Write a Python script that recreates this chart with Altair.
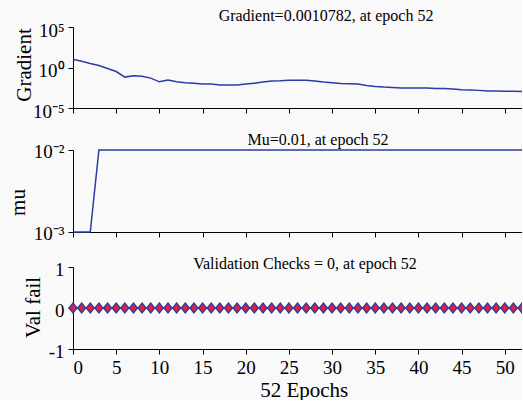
import altair as alt
import pandas as pd

# ---------------- data ----------------
epochs = list(range(53))
gradient = [10.5, 6.0, 3.1, 1.8, 0.76, 0.32, 0.065, 0.095, 0.085, 0.049,
            0.017, 0.028, 0.017, 0.013, 0.011, 0.0089, 0.0089, 0.0068, 0.0068, 0.0068,
            0.0089, 0.0117, 0.0158, 0.021, 0.023, 0.0275, 0.0275, 0.0275, 0.021, 0.0158,
            0.0129, 0.0107, 0.0100, 0.0089, 0.0062, 0.0046, 0.0038, 0.0035, 0.0029, 0.0029,
            0.0029, 0.0029, 0.0026, 0.0026, 0.0022, 0.0018, 0.00166, 0.0015, 0.00123, 0.00123,
            0.0012, 0.00115, 0.0010782]
mu = [0.001, 0.001, 0.001, 0.01, 0.01, 0.01, 0.01, 0.01, 0.01, 0.01,
      0.01, 0.01, 0.01, 0.01, 0.01, 0.01, 0.01, 0.01, 0.01, 0.01,
      0.01, 0.01, 0.01, 0.01, 0.01, 0.01, 0.01, 0.01, 0.01, 0.01,
      0.01, 0.01, 0.01, 0.01, 0.01, 0.01, 0.01, 0.01, 0.01, 0.01,
      0.01, 0.01, 0.01, 0.01, 0.01, 0.01, 0.01, 0.01, 0.01, 0.01,
      0.01, 0.01, 0.01]
val_fail = [0, 0, 0, 0, 0, 0, 0, 0, 0, 0,
            0, 0, 0, 0, 0, 0, 0, 0, 0, 0,
            0, 0, 0, 0, 0, 0, 0, 0, 0, 0,
            0, 0, 0, 0, 0, 0, 0, 0, 0, 0,
            0, 0, 0, 0, 0, 0, 0, 0, 0, 0,
            0, 0, 0]
x_ticks = [0, 5, 10, 15, 20, 25, 30, 35, 40, 45, 50]

titles = ["Gradient=0.0010782, at epoch 52",
          "Mu=0.01, at epoch 52",
          "Validation Checks = 0, at epoch 52"]

df = pd.DataFrame({"epoch": epochs, "gradient": gradient, "mu": mu, "val": val_fail})

FONT = "Liberation Serif"
BLUE = "#2B3BA6"
RED = "#E3202E"
W = 449

xscale = alt.Scale(domain=[0, 52], nice=False, zero=False)


def x_hidden():
    return alt.X("epoch:Q", scale=xscale,
                 axis=alt.Axis(values=x_ticks, labels=False, title=None,
                               tickSize=5, grid=False))


def ttl(text, dx, offset):
    return alt.TitleParams(text=text, font=FONT, fontSize=16, fontWeight="normal",
                           color="black", anchor="middle", frame="group",
                           dx=dx, baseline="alphabetic", offset=offset)


base = alt.Chart(df)

# ---------------- gradient panel ----------------
top = base.mark_line(color=BLUE, strokeWidth=1.5).encode(
    x=x_hidden(),
    y=alt.Y("gradient:Q",
            scale=alt.Scale(type="log", domain=[1e-5, 1e5], nice=False),
            axis=alt.Axis(values=[1e-5, 1, 1e5],
                          labelExpr="datum.value > 10 ? '10⁵' : (datum.value > 0.1 ? '10⁰' : '10⁻⁵')",
                          title="Gradient", titleX=-43, titleY=37.5, titleAngle=270,
                          titleBaseline="alphabetic", titleAlign="center",
                          labelOffset=3, labelPadding=4, tickSize=5, grid=False)),
).properties(width=W, height=81, title=ttl(titles[0], 28.5, -15.5))

# ---------------- mu panel ----------------
mid = base.mark_line(color=BLUE, strokeWidth=1.5).encode(
    x=x_hidden(),
    y=alt.Y("mu:Q",
            scale=alt.Scale(type="log", domain=[0.001, 0.01], nice=False, range=[89, 7]),
            axis=alt.Axis(values=[0.001, 0.01],
                          labelExpr="datum.value > 0.005 ? '10⁻²' : '10⁻³'",
                          title="mu", titleX=-49, titleY=59, titleAngle=270,
                          titleBaseline="alphabetic", titleAlign="center",
                          labelOffset=1, labelPadding=4, tickSize=5, grid=False)),
).properties(width=W, height=89, title=ttl(titles[1], 20.5, -18.5))

# ---------------- validation panel ----------------
x_bottom = alt.X("epoch:Q", scale=xscale,
                 axis=alt.Axis(values=x_ticks, title="52 Epochs", tickSize=5, grid=False,
                               labelPadding=4, titleX=230.7, titleY=47,
                               titleBaseline="alphabetic", titleAlign="center"))
y_val = alt.Y("val:Q", scale=alt.Scale(domain=[-1, 1], nice=False),
              axis=alt.Axis(values=[-1, 0, 1],
                            labelExpr="datum.value < -0.5 ? '-1' : (datum.value > 0.5 ? '1' : '0')",
                            title="Val fail", titleX=-34, titleY=40, titleAngle=270,
                            titleBaseline="alphabetic", titleAlign="center",
                            labelOffset=2, labelPadding=4, tickSize=5, grid=False))

diamond = dict(shape="M0,-1L0.8,0L0,1L-0.8,0Z", size=100, filled=True,
               color=RED, fill=RED, stroke=BLUE, strokeWidth=1.3, opacity=1)
val_line = base.mark_line(color=BLUE, strokeWidth=1.5).encode(x=x_bottom, y=y_val)
val_pts = base.transform_filter("datum.epoch < 52").mark_point(**diamond).encode(
    x=x_bottom, y=y_val)
val_last = base.transform_filter("datum.epoch >= 52").mark_point(clip=True, **diamond).encode(
    x=x_bottom, y=y_val)
bot = alt.layer(val_line, val_pts, val_last).properties(
    width=W, height=82, title=ttl(titles[2], 7.5, -24.5))

chart = alt.vconcat(top, mid, bot, spacing=35, bounds="flush").properties(
    background="#F9F9F9",
    padding={"left": 7, "top": 7, "right": -3, "bottom": 0},
).configure_axis(
    labelFont=FONT, titleFont=FONT, labelColor="black", titleColor="black",
    domainColor="black", tickColor="black", labelFontSize=19, titleFontSize=21,
    titleFontWeight="normal", domainWidth=1, tickWidth=1,
).configure_view(strokeWidth=0)

chart.save("out.html", embed_options={"renderer": "svg", "actions": False})
